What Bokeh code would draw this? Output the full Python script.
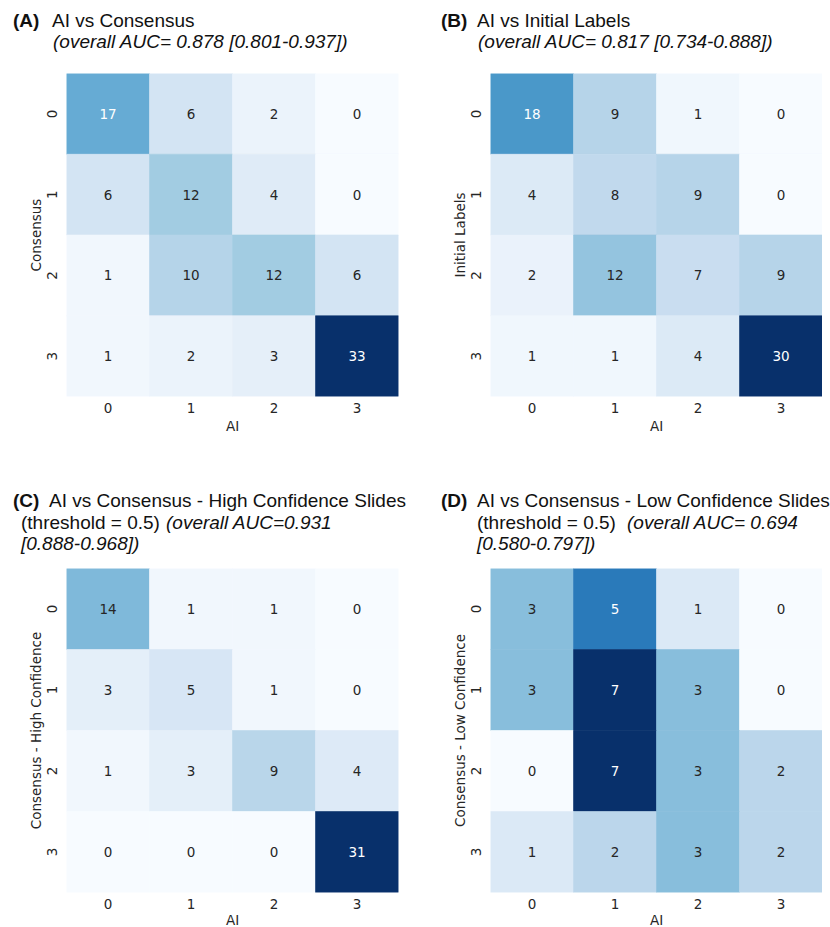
from bokeh.plotting import figure
from bokeh.models import ColumnDataSource, FactorRange, Div
from bokeh.layouts import column, row
from bokeh.core.properties import value
from bokeh.embed import file_html
from bokeh.resources import INLINE

# ---------------- data ----------------
classes = ["0", "1", "2", "3"]

ai_vs_consensus = [[17, 6, 2, 0],
                   [6, 12, 4, 0],
                   [1, 10, 12, 6],
                   [1, 2, 3, 33]]

ai_vs_initial = [[18, 9, 1, 0],
                 [4, 8, 9, 0],
                 [2, 12, 7, 9],
                 [1, 1, 4, 30]]

ai_vs_high_conf = [[14, 1, 1, 0],
                   [3, 5, 1, 0],
                   [1, 3, 9, 4],
                   [0, 0, 0, 31]]

ai_vs_low_conf = [[3, 5, 1, 0],
                  [3, 7, 3, 0],
                  [0, 7, 3, 2],
                  [1, 2, 3, 2]]

x_label = "AI"
y_labels = ["Consensus", "Initial Labels", "Consensus - High Confidence", "Consensus - Low Confidence"]

# ---------------- colour map (matplotlib "Blues") ----------------
BLUES = ["#f7fbff", "#deebf7", "#c6dbef", "#9ecae1", "#6baed6",
         "#4292c6", "#2171b5", "#08519c", "#08306b"]


def hex_rgb(h):
    return tuple(int(h[i:i + 2], 16) for i in (1, 3, 5))


def blues(t):
    t = min(max(t, 0.0), 1.0)
    pos = t * (len(BLUES) - 1)
    i = min(int(pos), len(BLUES) - 2)
    f = pos - i
    a, b = hex_rgb(BLUES[i]), hex_rgb(BLUES[i + 1])
    rgb = [round(a[k] + (b[k] - a[k]) * f) for k in range(3)]
    return "#%02x%02x%02x" % tuple(rgb), rgb


def luminance(rgb):
    out = []
    for c in rgb:
        c = c / 255.0
        out.append(c / 12.92 if c <= 0.03928 else ((c + 0.055) / 1.055) ** 2.4)
    return 0.2126 * out[0] + 0.7152 * out[1] + 0.0722 * out[2]


SANS = "DejaVu Sans"
FS = "13.5px"
TXT = "#262626"


def title_div(segments, width, height):
    spans = []
    for text, style, left, center in segments:
        css = "position:absolute;white-space:nowrap;left:%.1fpx;top:%.1fpx;line-height:20px;" % (left, center - 10)
        if style == "bold":
            css += "font-weight:bold;"
        elif style == "italic":
            css += "font-style:italic;"
        spans.append('<span style="%s">%s</span>' % (css, text))
    html = ('<div style="position:relative;width:%dpx;height:%dpx;font-family:\'Liberation Sans\',Arial,sans-serif;'
            'font-size:19px;color:#111111;">%s</div>' % (width, height, "".join(spans)))
    return Div(text=html, width=width, height=height, margin=0)


def heatmap(matrix, ylabel, width, height, bl, bt, fw, fh, xlab_standoff):
    lo = min(min(r) for r in matrix)
    hi = max(max(r) for r in matrix)
    xs, ys, cols, tcols, labs = [], [], [], [], []
    for ri, rowvals in enumerate(matrix):
        for ci, v in enumerate(rowvals):
            col, rgb = blues((v - lo) / (hi - lo))
            xs.append(classes[ci])
            ys.append(classes[ri])
            cols.append(col)
            tcols.append("#ffffff" if luminance(rgb) < 0.408 else TXT)
            labs.append(str(v))
    src = ColumnDataSource(dict(x=xs, y=ys, color=cols, tcolor=tcols, label=labs))

    br = width - bl - fw
    bb = height - bt - fh
    p = figure(frame_width=fw, frame_height=fh, title=None,
               x_range=FactorRange(*classes), y_range=FactorRange(*classes[::-1]),
               output_backend="svg", toolbar_location=None,
               min_border_left=bl, min_border_top=bt, min_border_right=br, min_border_bottom=bb,
               background_fill_color="white", border_fill_color="white", margin=0)
    p.outline_line_color = None
    p.grid.visible = False
    p.rect(x="x", y="y", width=1, height=1, source=src,
           fill_color="color", line_color="color", line_width=0.6)
    p.text(x="x", y="y", text="label", source=src, text_color="tcolor",
           text_align="center", text_baseline="middle",
           text_font=value(SANS), text_font_size=FS)

    for ax in (p.xaxis[0], p.yaxis[0]):
        ax.axis_line_color = None
        ax.major_tick_line_color = None
        ax.minor_tick_line_color = None
        ax.major_tick_out = 0
        ax.major_tick_in = 0
        ax.major_label_text_font = SANS
        ax.major_label_text_font_size = FS
        ax.major_label_text_color = TXT
        ax.axis_label_text_font = SANS
        ax.axis_label_text_font_size = FS
        ax.axis_label_text_font_style = "normal"
        ax.axis_label_text_color = TXT
    p.xaxis.major_label_standoff = 6
    p.xaxis.axis_label = x_label
    p.xaxis.axis_label_standoff = xlab_standoff
    p.yaxis.major_label_standoff = 10
    p.yaxis.major_label_orientation = "vertical"
    p.yaxis.axis_label = ylabel
    p.yaxis.axis_label_standoff = 0
    return p


seg_a = [("(A)", "bold", 13, 20.8), ("AI vs Consensus", "normal", 52, 20.8),
         ("(overall AUC= 0.878 [0.801-0.937])", "italic", 53, 42)]
seg_b = [("(B)", "bold", 26, 20.8), ("AI vs Initial Labels", "normal", 62, 20.8),
         ("(overall AUC= 0.817 [0.734-0.888])", "italic", 63, 42)]
seg_c = [("(C)", "bold", 13, 38), ("AI vs Consensus - High Confidence Slides", "normal", 49, 38),
         ("(threshold = 0.5)", "normal", 21, 59.5), ("(overall AUC=0.931", "italic", 166, 59.5),
         ("[0.888-0.968])", "italic", 21, 81)]
seg_d = [("(D)", "bold", 26, 38), ("AI vs Consensus - Low Confidence Slides", "normal", 62, 38),
         ("(threshold = 0.5)", "normal", 62, 59.5), ("(overall AUC= 0.694", "italic", 212, 59.5),
         ("[0.580-0.797])", "italic", 62, 81)]

colA = column(title_div(seg_a, 415, 63),
              heatmap(ai_vs_consensus, y_labels[0], 415, 400, 66, 10, 332, 323, 2), spacing=0)
colB = column(title_div(seg_b, 407, 63),
              heatmap(ai_vs_initial, y_labels[1], 407, 400, 75, 10, 332, 323, 2), spacing=0)
colC = column(title_div(seg_c, 415, 95),
              heatmap(ai_vs_high_conf, y_labels[2], 415, 368, 66, 10, 332, 324, 0), spacing=0)
colD = column(title_div(seg_d, 407, 95),
              heatmap(ai_vs_low_conf, y_labels[3], 407, 368, 75, 10, 332, 324, 0), spacing=0)

layout = column(row(colA, colB, spacing=0), row(colC, colD, spacing=0), spacing=0)

open("out.html", "w").write(file_html(layout, INLINE))
